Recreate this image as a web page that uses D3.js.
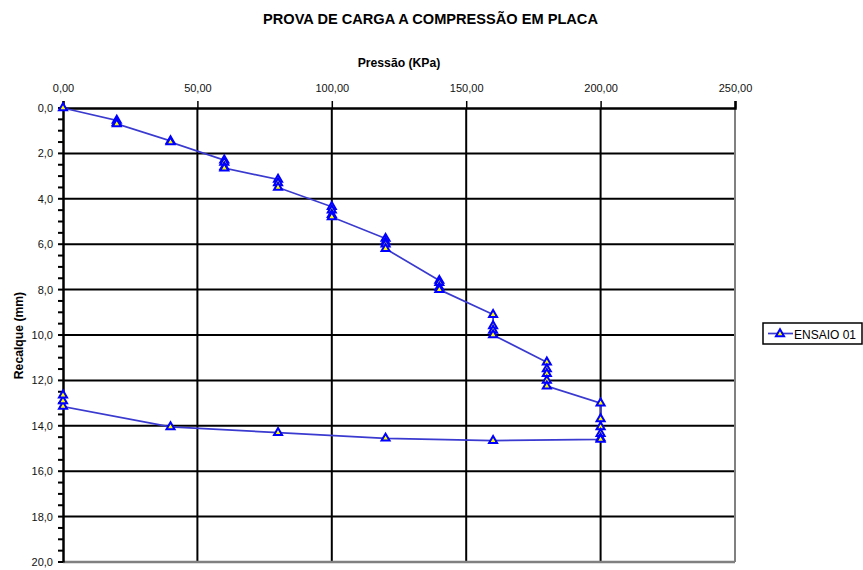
<!DOCTYPE html>
<html>
<head>
<meta charset="utf-8">
<script src="https://cdn.jsdelivr.net/npm/d3@7"></script>
<style>
  body { margin: 0; background: #fff; }
  svg { display: block; font-family: "Liberation Sans", Arial, sans-serif; }
</style>
</head>
<body>
<svg id="chart" width="863" height="570"></svg>
<script>
// Plate load test: applied pressure (kPa) vs settlement (mm), loading then unloading
const pressure = [0, 20, 20, 20, 40, 40, 60, 60, 60, 60, 80, 80, 80,
  100, 100, 100, 100, 120, 120, 120, 120, 140, 140, 140, 140,
  160, 160, 160, 160, 180, 180, 180, 180, 180,
  200, 200, 200, 200, 200, 200,
  160, 120, 80, 40, 0, 0, 0];
const settlement = [0, 0.55, 0.65, 0.7, 1.45, 1.5, 2.3, 2.4, 2.6, 2.65, 3.15, 3.3, 3.5,
  4.35, 4.5, 4.7, 4.8, 5.75, 5.9, 6.0, 6.2, 7.6, 7.7, 7.9, 8.0,
  9.1, 9.6, 9.8, 10.0, 11.2, 11.5, 11.7, 12.0, 12.25,
  13.0, 13.7, 14.05, 14.35, 14.55, 14.6,
  14.65, 14.55, 14.3, 14.05, 13.15, 12.9, 12.65];
const xTicks = [0, 50, 100, 150, 200, 250];
const yTicks = [0, 2, 4, 6, 8, 10, 12, 14, 16, 18, 20];
const seriesName = "ENSAIO 01";

const svg = d3.select("#chart");
const pLeft = 63, pRight = 735, pTop = 108, pBottom = 562;

const x = d3.scaleLinear().domain([0, 250]).range([pLeft, pRight]);
const y = d3.scaleLinear().domain([0, 20]).range([pTop, pBottom]);
const fmt2 = v => d3.format(".2f")(v).replace(".", ",");
const fmt1 = v => d3.format(".1f")(v).replace(".", ",");

// Title
svg.append("text").attr("x", 430.5).attr("y", 24).attr("text-anchor", "middle")
  .attr("font-size", 14.6).attr("font-weight", "bold")
  .text("PROVA DE CARGA A COMPRESSÃO EM PLACA");

// Axis titles
svg.append("text").attr("x", 399).attr("y", 67).attr("text-anchor", "middle")
  .attr("font-size", 12.2).attr("font-weight", "bold").text("Pressão (KPa)");
svg.append("text").attr("transform", `translate(23,335.5) rotate(-90)`)
  .attr("text-anchor", "middle").attr("font-size", 12.2).attr("font-weight", "bold")
  .text("Recalque (mm)");

// Gridlines
const grid = svg.append("g");
grid.selectAll(".vg").data(xTicks.filter(d => d > 0 && d < 250)).join("line")
  .attr("x1", d => x(d)).attr("x2", d => x(d)).attr("y1", pTop).attr("y2", pBottom)
  .attr("stroke", "#000").attr("stroke-width", 2);
grid.selectAll(".hg").data(yTicks.filter(d => d > 0 && d < 20)).join("line")
  .attr("x1", pLeft).attr("x2", pRight).attr("y1", d => y(d)).attr("y2", d => y(d))
  .attr("stroke", "#000").attr("stroke-width", 2);

// Frame: grey right and bottom edges
svg.append("line").attr("x1", pRight).attr("x2", pRight).attr("y1", pTop).attr("y2", pBottom)
  .attr("stroke", "#808080").attr("stroke-width", 2);
svg.append("line").attr("x1", pLeft).attr("x2", pRight).attr("y1", pBottom).attr("y2", pBottom)
  .attr("stroke", "#808080").attr("stroke-width", 2.5);

// Top x axis
const xAxis = svg.append("g").attr("transform", `translate(0,${pTop})`)
  .call(d3.axisTop(x).tickValues(xTicks).tickFormat(fmt2).tickSize(7).tickPadding(9));
xAxis.select(".domain").attr("stroke-width", 2.5);
xAxis.selectAll(".tick line").attr("stroke-width", 1.5);
xAxis.selectAll("text").attr("font-size", 11).attr("fill", "#111")
  .attr("font-family", "Liberation Sans, Arial, sans-serif");

// Left y axis with minor ticks
const yAxis = svg.append("g").attr("transform", `translate(${pLeft},0)`)
  .call(d3.axisLeft(y).tickValues(yTicks).tickFormat(fmt1).tickSize(0).tickPadding(10));
yAxis.select(".domain").attr("stroke-width", 2.5);
yAxis.selectAll("text").attr("font-size", 11).attr("fill", "#111")
  .attr("font-family", "Liberation Sans, Arial, sans-serif");
svg.append("g").selectAll("line").data(d3.range(0, 20.01, 0.5)).join("line")
  .attr("x1", pLeft - 5).attr("x2", pLeft).attr("y1", d => y(d)).attr("y2", d => y(d))
  .attr("stroke", "#000").attr("stroke-width", 2);

// Series
const pts = pressure.map((p, i) => [p, settlement[i]]);
svg.append("path").datum(pts)
  .attr("fill", "none").attr("stroke", "#3a3ad0").attr("stroke-width", 1.7)
  .attr("d", d3.line().x(d => x(d[0])).y(d => y(d[1])));

const tri = d3.symbol().type(d3.symbolTriangle).size(28);
svg.append("g").selectAll("path").data(pts).join("path")
  .attr("transform", d => `translate(${x(d[0])},${y(d[1])})`)
  .attr("d", tri).attr("fill", "#ffff00").attr("stroke", "#0000ff").attr("stroke-width", 2);

// Legend
const lg = svg.append("g");
lg.append("rect").attr("x", 763).attr("y", 323).attr("width", 99).attr("height", 21)
  .attr("fill", "#fff").attr("stroke", "#000").attr("stroke-width", 1.5);
lg.append("line").attr("x1", 768).attr("x2", 793).attr("y1", 333.5).attr("y2", 333.5)
  .attr("stroke", "#3a3ad0").attr("stroke-width", 1.7);
lg.append("path").attr("transform", "translate(780,334)").attr("d", tri)
  .attr("fill", "#ffff00").attr("stroke", "#0000ff").attr("stroke-width", 2);
lg.append("text").attr("x", 794).attr("y", 338.5).attr("font-size", 12).text(seriesName);
</script>
</body>
</html>
